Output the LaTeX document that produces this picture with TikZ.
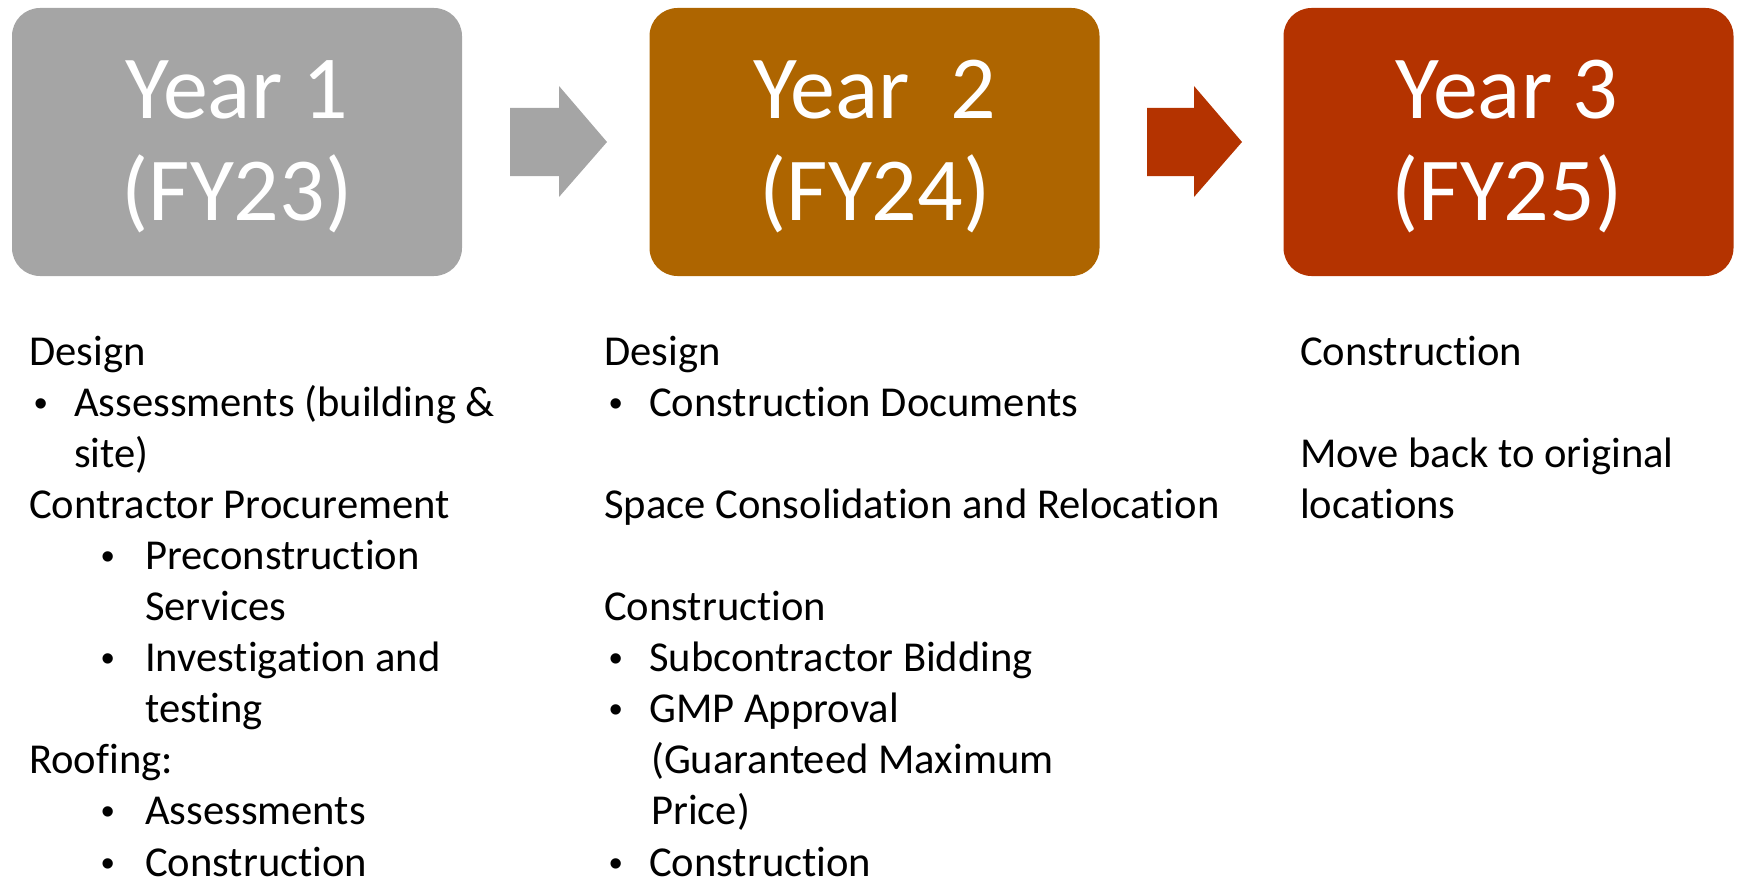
\documentclass[tikz,border=0pt]{standalone}
\usepackage{fontspec}
\setmainfont{Carlito}[RawFeature={-liga}]
\newfontfamily\bulfont{Liberation Sans}
\definecolor{cgray}{HTML}{A5A5A5}
\definecolor{cbrown}{HTML}{AE6500}
\definecolor{cred}{HTML}{B43300}
\tikzset{
  yearbox/.style={rounded corners=28pt, minimum width=450pt, minimum height=268pt, inner sep=0pt, draw=none},
  yeartxt/.style={anchor=base, text=white, font=\fontsize{90}{102}\selectfont, inner sep=0pt},
  body/.style={anchor=base west, font=\fontsize{42.6}{51}\selectfont, inner sep=0pt},
  bul/.style={anchor=base, font=\bulfont\fontsize{38}{51}\selectfont, inner sep=0pt},
  blockarrow/.style={draw=none}
}
\begin{document}
\begin{tikzpicture}[x=1pt,y=-1pt]
\useasboundingbox (0,0) rectangle (1737,880);
% year boxes
\node[yearbox, fill=cgray]  (b1) at (237,142) {};
\node[yearbox, fill=cbrown] (b2) at (874.5,142) {};
\node[yearbox, fill=cred]   (b3) at (1508.5,142) {};
\node[yeartxt] (t1a) at (237,119) {Year 1};
\node[yeartxt] (t1b) at (237,220) {(FY23)};
\node[yeartxt] (t2a) at (875,119) {Year\ \ 2};
\node[yeartxt] (t2b) at (875,220) {(FY24)};
\node[yeartxt] (t3a) at (1507,119) {Year 3};
\node[yeartxt] (t3b) at (1507,220) {(FY25)};
% block arrows
\fill[cgray, blockarrow] (510,108) -- (559,108) -- (559,86) -- (607,142) -- (559,197) -- (559,176) -- (510,176) -- cycle;
\fill[cred, blockarrow] (1147,108) -- (1194,108) -- (1194,86) -- (1242,142) -- (1194,197) -- (1194,176) -- (1147,176) -- cycle;
% column 1
\node[body] (a0) at (29,365) {Design};
\node[bul] (a1b) at (41,416.1) {•};
\node[body] (a1) at (74,416.1) {Assessments (building \&};
\node[body] (a2) at (74,467.2) {site)};
\node[body] (a3) at (29,518.3) {Contractor Procurement};
\node[bul] (a4b) at (108,569.4) {•};
\node[body] (a4) at (145,569.4) {Preconstruction};
\node[body] (a5) at (145,620.5) {Services};
\node[bul] (a6b) at (108,671.6) {•};
\node[body] (a6) at (145,671.6) {Investigation and};
\node[body] (a7) at (145,722.7) {testing};
\node[body] (a8) at (29,773.8) {Roofing:};
\node[bul] (a9b) at (108,824.9) {•};
\node[body] (a9) at (145,824.9) {Assessments};
\node[bul] (a10b) at (108,876) {•};
\node[body] (a10) at (145,876) {Construction};
% column 2
\node[body] (m0) at (604,365) {Design};
\node[bul] (m1b) at (616,416.1) {•};
\node[body] (m1) at (649,416.1) {Construction Documents};
\node[body] (m3) at (604,518.3) {Space Consolidation and Relocation};
\node[body] (m5) at (604,620.5) {Construction};
\node[bul] (m6b) at (616,671.6) {•};
\node[body] (m6) at (649,671.6) {Subcontractor Bidding};
\node[bul] (m7b) at (616,722.7) {•};
\node[body] (m7) at (649,722.7) {GMP Approval};
\node[body] (m8) at (651,773.8) {(Guaranteed Maximum};
\node[body] (m9) at (651,824.9) {Price)};
\node[bul] (m10b) at (616,876) {•};
\node[body] (m10) at (649,876) {Construction};
% column 3
\node[body] (r0) at (1300,365) {Construction};
\node[body] (r2) at (1300,467.2) {Move back to original};
\node[body] (r3) at (1300,518.3) {locations};
\end{tikzpicture}
\end{document}
